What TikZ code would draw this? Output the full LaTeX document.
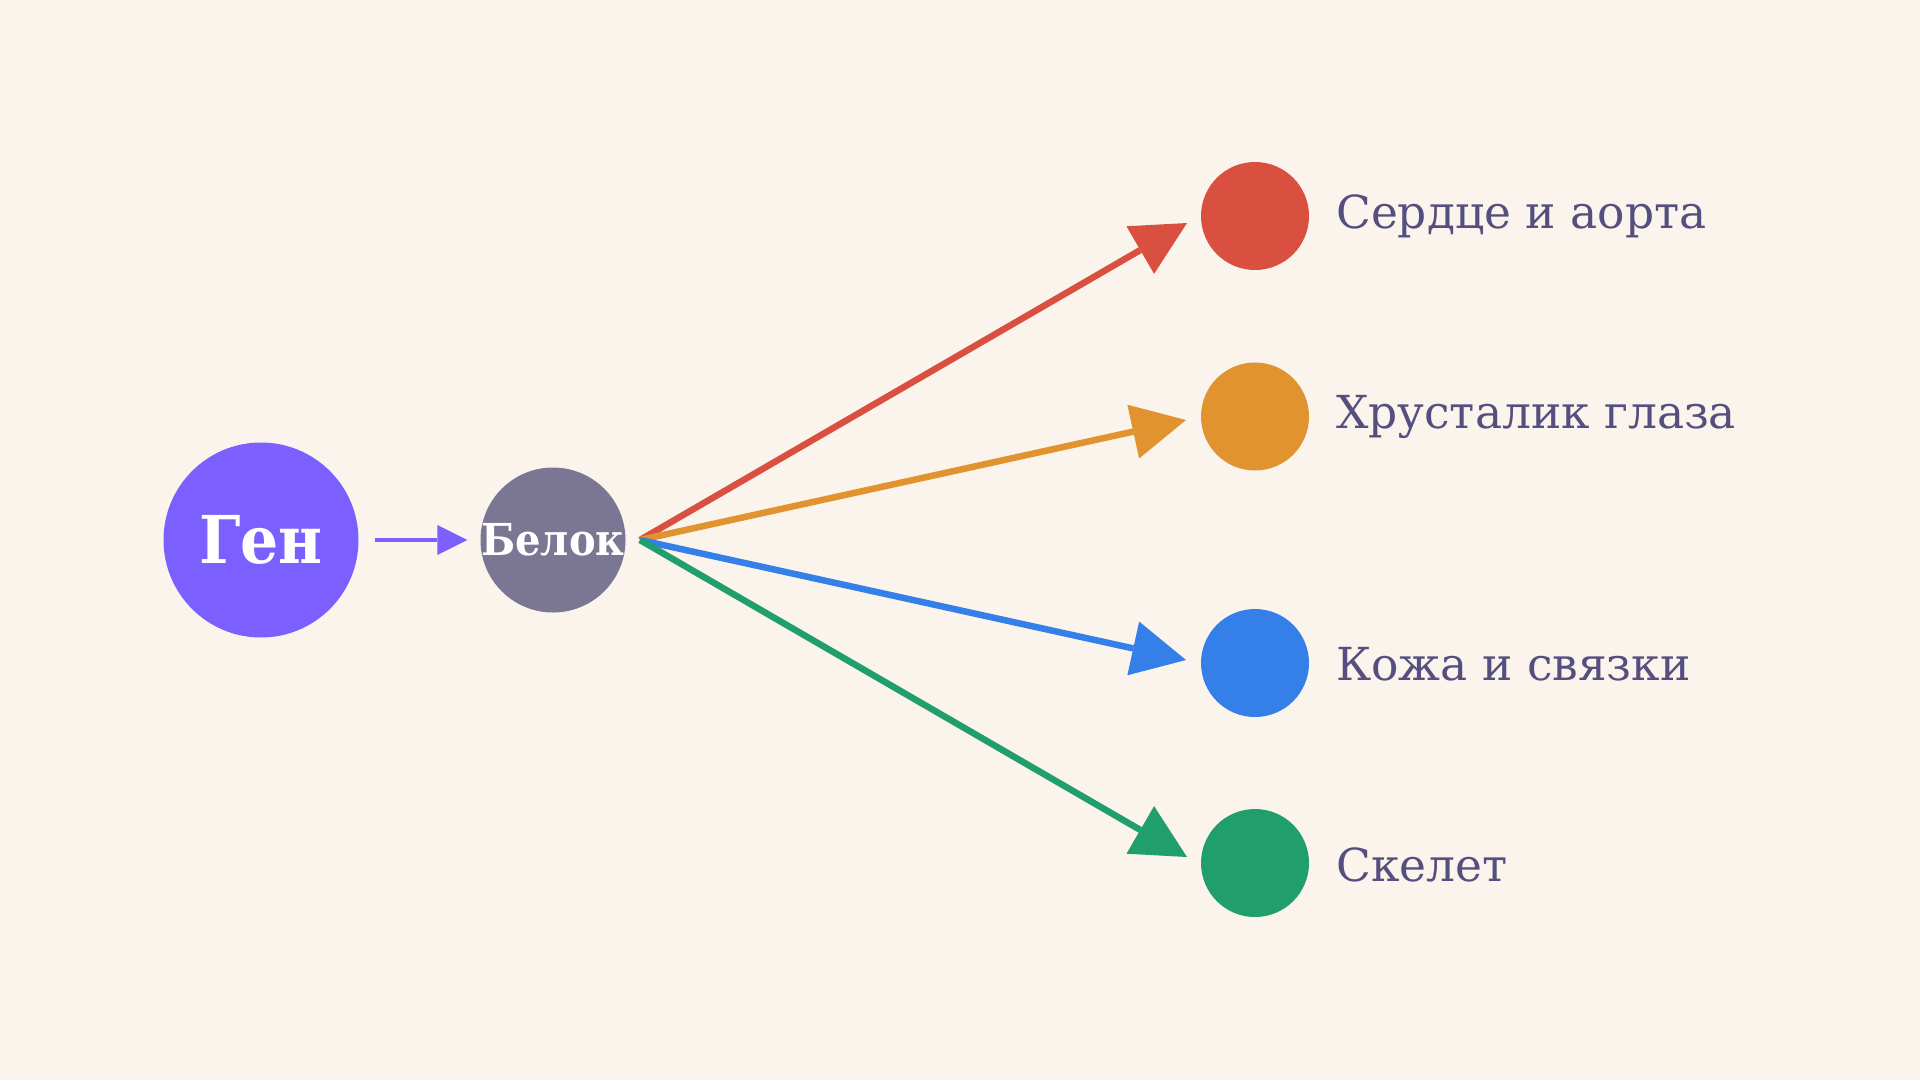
\documentclass[tikz,border=0pt]{standalone}
\usepackage{fontspec}
\setmainfont{DejaVu Serif}
\newfontfamily\condserif[FakeStretch=0.91]{DejaVu Serif}
\usetikzlibrary{arrows.meta}
\definecolor{bg}{HTML}{FAF4EC}
\definecolor{genc}{HTML}{7B5FFF}
\definecolor{belokc}{HTML}{7A7693}
\definecolor{redc}{HTML}{D95040}
\definecolor{orc}{HTML}{E0932F}
\definecolor{bluec}{HTML}{3580E8}
\definecolor{greenc}{HTML}{209E6C}
\definecolor{txtc}{HTML}{544F7E}
\tikzset{
  dot/.style={circle, inner sep=0pt, minimum size=108pt, draw=none},
  bigdot/.style={circle, inner sep=0pt, text=white, draw=none},
  lbl/.style={anchor=base west, inner sep=0pt, text=txtc, font=\fontsize{45.5}{50}\selectfont},
  fan/.style={line width=6.5pt, -{Triangle[length=54pt, width=55pt, line width=0pt]}},
}
\begin{document}
\begin{tikzpicture}[x=1pt, y=-1pt]
\fill[bg] (0,0) rectangle (1920,1080);
\useasboundingbox (0,0) rectangle (1920,1080);
\node[bigdot, minimum size=195pt, fill=genc,
      font=\condserif\bfseries\fontsize{66}{70}\selectfont] (gen) at (261,540) {\makebox[0pt]{Ген}};
\node[bigdot, minimum size=145pt, fill=belokc,
      font=\condserif\bfseries\fontsize{44}{48}\selectfont] (belok) at (553,540) {\makebox[0pt]{Белок}};
\draw[genc, line width=4pt, -{Triangle[length=30pt, width=30pt, line width=0pt]},
      shorten <=16.5pt, shorten >=13pt] (gen) -- (belok);
\node[dot, fill=redc] (c1) at (1255,216) {};
\node[dot, fill=orc] (c2) at (1255,416.5) {};
\node[dot, fill=bluec] (c3) at (1255,663) {};
\node[dot, fill=greenc] (c4) at (1255,863) {};
\node[lbl] (l1) at (1336,228.5) {Сердце и аорта};
\node[lbl] (l2) at (1336,428.7) {Хрусталик глаза};
\node[lbl] (l3) at (1336,680) {Кожа и связки};
\node[lbl] (l4) at (1336,881) {Скелет};
\coordinate (o) at (640,540);
\coordinate (t1) at (1187,223);
\coordinate (t2) at (1186,420);
\coordinate (t3) at (1186,660);
\coordinate (t4) at (1187,857);
\draw[fan, redc] (o) -- (t1);
\draw[fan, orc] (o) -- (t2);
\draw[fan, bluec] (o) -- (t3);
\draw[fan, greenc] (o) -- (t4);
\end{tikzpicture}
\end{document}
